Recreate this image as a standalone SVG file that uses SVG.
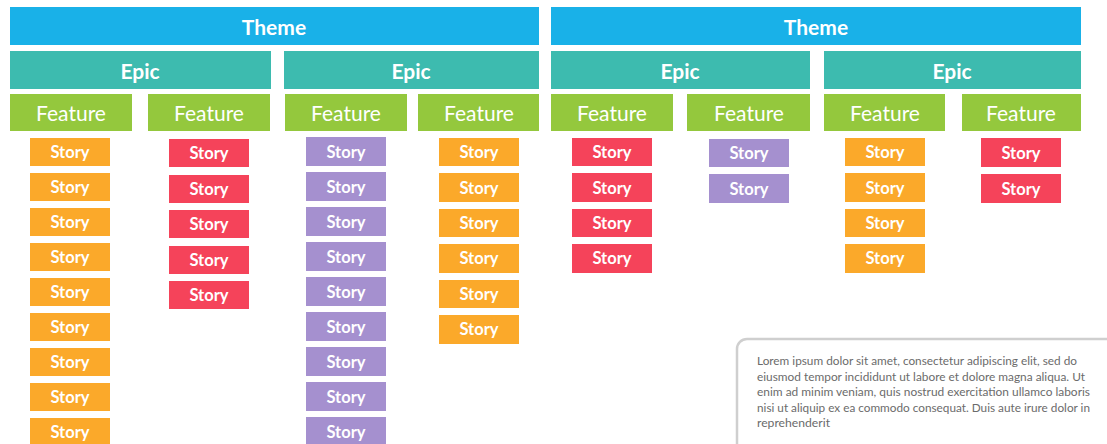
<svg xmlns="http://www.w3.org/2000/svg" width="1107" height="444" viewBox="0 0 1107 444">
<style>
text{font-family:Lato,"Open Sans","Liberation Sans",sans-serif;fill:#fff;text-anchor:middle;dominant-baseline:central}
.theme rect{fill:#19B1E8}
.epic rect{fill:#3DBBAF}
.feat rect{fill:#94C83D}
.t1{font-size:21px;font-weight:bold}
.t2{font-size:21px}
.s text{font-size:16.5px;font-weight:bold}
.o rect{fill:#FBA92A}
.r rect{fill:#F5435A}
.p rect{fill:#A590CF}
.note text{fill:#6b6b6b;font-size:11.7px;text-anchor:start;dominant-baseline:auto}
</style>
<rect width="1107" height="444" fill="#fff"/>
<g id="theme1" class="theme"><rect x="10" y="7" width="529" height="38"/><text class="t1" x="274" y="26">Theme</text></g>
<g id="theme2" class="theme"><rect x="551" y="7" width="530" height="38"/><text class="t1" x="816" y="26">Theme</text></g>
<g id="epic1" class="epic"><rect x="10" y="51" width="261" height="38"/><text class="t1" x="140" y="70">Epic</text></g>
<g id="epic2" class="epic"><rect x="284" y="51" width="255" height="38"/><text class="t1" x="411" y="70">Epic</text></g>
<g id="epic3" class="epic"><rect x="551" y="51" width="259" height="38"/><text class="t1" x="680" y="70">Epic</text></g>
<g id="epic4" class="epic"><rect x="824" y="51" width="257" height="38"/><text class="t1" x="952" y="70">Epic</text></g>
<g id="feat1" class="feat"><rect x="10" y="94" width="122" height="37"/><text class="t2" x="71" y="112">Feature</text></g>
<g id="feat2" class="feat"><rect x="148" y="94" width="122" height="37"/><text class="t2" x="209" y="112">Feature</text></g>
<g id="feat3" class="feat"><rect x="285" y="94" width="122" height="37"/><text class="t2" x="346" y="112">Feature</text></g>
<g id="feat4" class="feat"><rect x="418" y="94" width="121" height="37"/><text class="t2" x="479" y="112">Feature</text></g>
<g id="feat5" class="feat"><rect x="551" y="94" width="122" height="37"/><text class="t2" x="612" y="112">Feature</text></g>
<g id="feat6" class="feat"><rect x="687" y="94" width="123" height="37"/><text class="t2" x="749" y="112">Feature</text></g>
<g id="feat7" class="feat"><rect x="824" y="94" width="121" height="37"/><text class="t2" x="885" y="112">Feature</text></g>
<g id="feat8" class="feat"><rect x="962" y="94" width="119" height="37"/><text class="t2" x="1021" y="112">Feature</text></g>

<g id="stories1" class="s o">
<g id="s1-1"><rect x="30" y="138" width="80" height="28"/><text x="70" y="152">Story</text></g>
<g id="s1-2"><rect x="30" y="173" width="80" height="28"/><text x="70" y="187">Story</text></g>
<g id="s1-3"><rect x="30" y="208" width="80" height="28"/><text x="70" y="222">Story</text></g>
<g id="s1-4"><rect x="30" y="243" width="80" height="28"/><text x="70" y="257">Story</text></g>
<g id="s1-5"><rect x="30" y="278" width="80" height="28"/><text x="70" y="292">Story</text></g>
<g id="s1-6"><rect x="30" y="313" width="80" height="28"/><text x="70" y="327">Story</text></g>
<g id="s1-7"><rect x="30" y="348" width="80" height="28"/><text x="70" y="362">Story</text></g>
<g id="s1-8"><rect x="30" y="383" width="80" height="28"/><text x="70" y="397">Story</text></g>
<g id="s1-9"><rect x="30" y="418" width="80" height="28"/><text x="70" y="432">Story</text></g>
</g>
<g id="stories2" class="s r">
<g id="s2-1"><rect x="169" y="139" width="80" height="28"/><text x="209" y="153">Story</text></g>
<g id="s2-2"><rect x="169" y="175" width="80" height="28"/><text x="209" y="189">Story</text></g>
<g id="s2-3"><rect x="169" y="210" width="80" height="28"/><text x="209" y="224">Story</text></g>
<g id="s2-4"><rect x="169" y="246" width="80" height="28"/><text x="209" y="260">Story</text></g>
<g id="s2-5"><rect x="169" y="281" width="80" height="28"/><text x="209" y="295">Story</text></g>
</g>
<g id="stories3" class="s p">
<g id="s3-1"><rect x="306" y="137" width="80" height="29"/><text x="346" y="152">Story</text></g>
<g id="s3-2"><rect x="306" y="172" width="80" height="29"/><text x="346" y="187">Story</text></g>
<g id="s3-3"><rect x="306" y="207" width="80" height="29"/><text x="346" y="222">Story</text></g>
<g id="s3-4"><rect x="306" y="242" width="80" height="29"/><text x="346" y="257">Story</text></g>
<g id="s3-5"><rect x="306" y="277" width="80" height="29"/><text x="346" y="292">Story</text></g>
<g id="s3-6"><rect x="306" y="312" width="80" height="29"/><text x="346" y="327">Story</text></g>
<g id="s3-7"><rect x="306" y="347" width="80" height="29"/><text x="346" y="362">Story</text></g>
<g id="s3-8"><rect x="306" y="382" width="80" height="29"/><text x="346" y="397">Story</text></g>
<g id="s3-9"><rect x="306" y="417" width="80" height="29"/><text x="346" y="432">Story</text></g>
</g>
<g id="stories4" class="s o">
<g id="s4-1"><rect x="439" y="138" width="80" height="28"/><text x="479" y="152">Story</text></g>
<g id="s4-2"><rect x="439" y="173" width="80" height="29"/><text x="479" y="188">Story</text></g>
<g id="s4-3"><rect x="439" y="209" width="80" height="28"/><text x="479" y="223">Story</text></g>
<g id="s4-4"><rect x="439" y="244" width="80" height="29"/><text x="479" y="258">Story</text></g>
<g id="s4-5"><rect x="439" y="280" width="80" height="28"/><text x="479" y="294">Story</text></g>
<g id="s4-6"><rect x="439" y="315" width="80" height="29"/><text x="479" y="329">Story</text></g>
</g>
<g id="stories5" class="s r">
<g id="s5-1"><rect x="572" y="138" width="80" height="28"/><text x="612" y="152">Story</text></g>
<g id="s5-2"><rect x="572" y="173" width="80" height="29"/><text x="612" y="188">Story</text></g>
<g id="s5-3"><rect x="572" y="209" width="80" height="28"/><text x="612" y="223">Story</text></g>
<g id="s5-4"><rect x="572" y="244" width="80" height="29"/><text x="612" y="258">Story</text></g>
</g>
<g id="stories6" class="s p">
<g id="s6-1"><rect x="709" y="139" width="80" height="28"/><text x="749" y="153">Story</text></g>
<g id="s6-2"><rect x="709" y="174" width="80" height="29"/><text x="749" y="189">Story</text></g>
</g>
<g id="stories7" class="s o">
<g id="s7-1"><rect x="845" y="138" width="80" height="28"/><text x="885" y="152">Story</text></g>
<g id="s7-2"><rect x="845" y="173" width="80" height="29"/><text x="885" y="188">Story</text></g>
<g id="s7-3"><rect x="845" y="209" width="80" height="28"/><text x="885" y="223">Story</text></g>
<g id="s7-4"><rect x="845" y="244" width="80" height="29"/><text x="885" y="258">Story</text></g>
</g>
<g id="stories8" class="s r">
<g id="s8-1"><rect x="981" y="138" width="80" height="29"/><text x="1021" y="153">Story</text></g>
<g id="s8-2"><rect x="981" y="174" width="80" height="29"/><text x="1021" y="189">Story</text></g>
</g>
<g id="connectors"></g>
<g id="note" class="note">
<rect x="737" y="339" width="390" height="130" rx="10" fill="#fff" stroke="#cfcfcf" stroke-width="2.5"/>
<text x="757" y="365" textLength="320" lengthAdjust="spacingAndGlyphs">Lorem ipsum dolor sit amet, consectetur adipiscing elit, sed do</text>
<text x="757" y="381" textLength="328" lengthAdjust="spacingAndGlyphs">eiusmod tempor incididunt ut labore et dolore magna aliqua. Ut</text>
<text x="757" y="396" textLength="333" lengthAdjust="spacingAndGlyphs">enim ad minim veniam, quis nostrud exercitation ullamco laboris</text>
<text x="757" y="412" textLength="333" lengthAdjust="spacingAndGlyphs">nisi ut aliquip ex ea commodo consequat. Duis aute irure dolor in</text>
<text x="757" y="427" textLength="73" lengthAdjust="spacingAndGlyphs">reprehenderit</text>
</g>
</svg>
